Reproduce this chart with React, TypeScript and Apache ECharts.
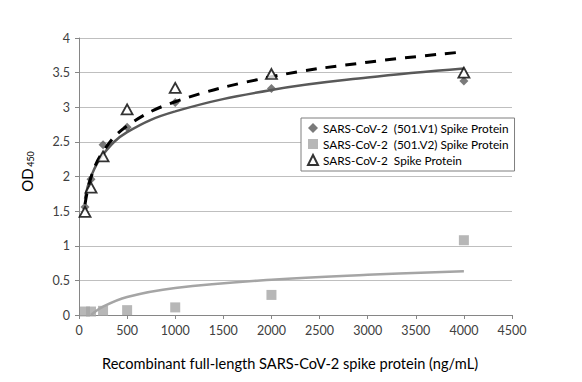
import React, { useEffect, useRef } from "react";
import * as echarts from "echarts";

const concentrations = [62.5, 125, 250, 500, 1000, 2000, 4000];
const v1Values = [1.56, 1.96, 2.46, 2.71, 3.07, 3.27, 3.38];
const v2Values = [0.05, 0.05, 0.06, 0.07, 0.11, 0.29, 1.08];
const spikeValues = [1.49, 1.84, 2.29, 2.97, 3.28, 3.48, 3.5];

// trendline readings from the picture
const v1TrendX = [62.5, 125, 250, 500, 1000, 2000, 3000, 4000];
const v1TrendY = [1.68, 2.0, 2.32, 2.64, 2.94, 3.25, 3.43, 3.56];
const v2TrendX = [125, 250, 500, 1000, 2000, 3000, 4000];
const v2TrendY = [0.0, 0.12, 0.26, 0.39, 0.51, 0.58, 0.63];
const spikeTrendX = [62.5, 125, 250, 500, 1000, 2000, 3000, 4000];
const spikeTrendY = [1.6, 1.99, 2.36, 2.73, 3.08, 3.44, 3.65, 3.8];

const names = [
  "SARS-CoV-2  (501.V1) Spike Protein",
  "SARS-CoV-2  (501.V2) Spike Protein",
  "SARS-CoV-2  Spike Protein",
];
const xTitle = "Recombinant full-length SARS-CoV-2 spike protein (ng/mL)";

const pair = (xs: number[], ys: number[]) => xs.map((x, i) => [x, ys[i]]);

const FONT = "Lato";

export default function App() {
  const ref = useRef<HTMLDivElement>(null);
  useEffect(() => {
    if (!ref.current) return;
    const chart = echarts.init(ref.current, undefined, { renderer: "svg" });
    chart.setOption({
      animation: false,
      backgroundColor: "#fff",
      grid: { left: 79, right: 70, top: 38, bottom: 67 },
      xAxis: {
        type: "value",
        min: 0,
        max: 4500,
        interval: 500,
        axisLine: { show: true, lineStyle: { color: "#868686", width: 1 } },
        axisTick: { show: true, length: 4, lineStyle: { color: "#868686" } },
        splitLine: { show: false },
        axisLabel: {
          fontFamily: FONT,
          fontSize: 12.5,
          color: "#404040",
          margin: 9,
          formatter: (v: number) => String(v),
        },
      },
      yAxis: {
        type: "value",
        min: 0,
        max: 4,
        interval: 0.5,
        axisLine: { show: true, lineStyle: { color: "#868686", width: 1 } },
        axisTick: { show: true, length: 4, lineStyle: { color: "#868686" } },
        splitLine: { show: true, lineStyle: { color: "#bfbfbf", width: 1 } },
        axisLabel: {
          fontFamily: FONT,
          fontSize: 12.5,
          color: "#404040",
          margin: 9,
          formatter: (v: number) => String(v),
        },
      },
      legend: {
        orient: "vertical",
        left: 301,
        top: 118,
        data: names,
        itemWidth: 10,
        itemHeight: 10,
        itemGap: 2,
        padding: [3, 6, 4, 6],
        borderColor: "#7f7f7f",
        borderWidth: 1,
        backgroundColor: "#fff",
        textStyle: { fontFamily: FONT, fontSize: 11.8, color: "#000", lineHeight: 14 },
      },
      graphic: [
        {
          type: "text",
          x: 27,
          y: 180,
          rotation: Math.PI / 2,
          style: {
            text: "OD",
            fontFamily: FONT,
            fontSize: 15,
            fill: "#000",
            align: "center",
            verticalAlign: "middle",
          },
        },
        {
          type: "text",
          x: 30.5,
          y: 159,
          rotation: Math.PI / 2,
          style: {
            text: "450",
            fontFamily: FONT,
            fontSize: 9,
            fill: "#000",
            align: "center",
            verticalAlign: "middle",
          },
        },
        {
          type: "text",
          x: 290,
          y: 363,
          style: {
            text: xTitle,
            fontFamily: FONT,
            fontSize: 14.6,
            fill: "#000",
            align: "center",
            verticalAlign: "middle",
          },
        },
      ],
      series: [
        {
          name: names[1],
          type: "scatter",
          symbol: "rect",
          symbolSize: 10,
          itemStyle: { color: "#a5a5a5" },
          data: pair(concentrations, v2Values),
          z: 2,
        },
        {
          name: "v2trend",
          type: "line",
          showSymbol: false,
          symbol: "none",
          smooth: 0.4,
          lineStyle: { color: "#a5a5a5", width: 2.5 },
          data: pair(v2TrendX, v2TrendY),
          z: 3,
        },
        {
          name: names[0],
          type: "scatter",
          symbol: "diamond",
          symbolSize: 9,
          itemStyle: { color: "#595959" },
          data: pair(concentrations, v1Values),
          z: 4,
        },
        {
          name: "v1trend",
          type: "line",
          showSymbol: false,
          symbol: "none",
          smooth: 0.4,
          lineStyle: { color: "#595959", width: 2.5 },
          data: pair(v1TrendX, v1TrendY),
          z: 5,
        },
        {
          name: "spiketrend",
          type: "line",
          showSymbol: false,
          symbol: "none",
          smooth: 0.4,
          lineStyle: { color: "#000", width: 3, type: [11, 9] },
          data: pair(spikeTrendX, spikeTrendY),
          z: 6,
        },
        {
          name: names[2],
          type: "scatter",
          symbol: "triangle",
          symbolSize: [11, 10],
          itemStyle: { color: "#fff", borderColor: "#000", borderWidth: 1.8 },
          data: pair(concentrations, spikeValues),
          z: 7,
        },
      ],
    });
    return () => chart.dispose();
  }, []);
  return <div ref={ref} style={{ width: 582, height: 382, position: "absolute", left: 0, top: 0 }} />;
}
